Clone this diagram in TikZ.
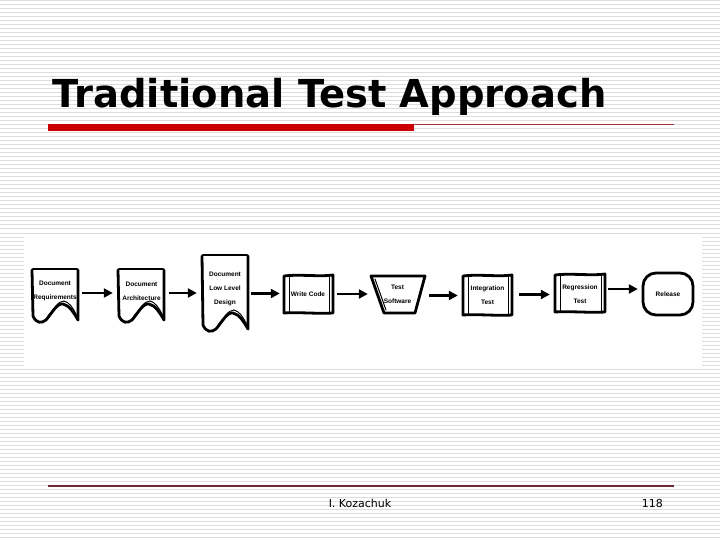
\documentclass[tikz,border=0pt]{standalone}
\usepackage{fontspec}
\setmainfont{Liberation Sans}
\newfontfamily\titlefont{DejaVu Sans}
\usetikzlibrary{arrows.meta}
\definecolor{stripegray}{HTML}{DCDCDC}
\definecolor{barred}{HTML}{CC0000}
\definecolor{thinred}{HTML}{A83232}
\definecolor{footmaroon}{HTML}{6B2A33}
\tikzset{
  stripe/.style={draw=stripegray, line width=1pt},
  sk/.style={line width=2.8pt, line join=round, line cap=round},
  skthin/.style={line width=1pt, line cap=round},
  box/.style={draw=none, inner sep=0pt, align=center, font=\bfseries\fontsize{6.5}{14}\selectfont},
  flow/.style={line width=2.4pt, -{Triangle[length=9pt,width=9pt]}, shorten <=4pt, shorten >=5pt}
}
\newcommand{\mydoc}[3]{%
  \draw[sk] (#1+1,#2) -- (#1+45,#2);
  \draw[sk] (#1,#2+1) -- (#1+1,#3) .. controls (#1+4,#3+7) and (#1+9,#3+8) .. (#1+14,#3+4)
     .. controls (#1+20,#3-3) and (#1+25,#3-13) .. (#1+31,#3-12)
     .. controls (#1+37,#3-11) and (#1+42,#3-3) .. (#1+46,#3+4) -- (#1+46,#2+1);
  \draw[skthin] (#1+16,#3) .. controls (#1+22,#3-7) and (#1+26,#3-15) .. (#1+32,#3-15)
     .. controls (#1+37,#3-14) and (#1+41,#3-8) .. (#1+44,#3-2);
}
\newcommand{\myproc}[4]{%
  \draw[sk] (#1,#2) .. controls (#1+16,#2-2) and (#3-14,#2+1) .. (#3,#2-1) -- (#3,#4)
     .. controls (#3-15,#4+1) and (#1+16,#4-1) .. (#1,#4) -- cycle;
  \draw[skthin] (#1+5,#2+1) -- (#1+5,#4-1);
  \draw[skthin] (#3-4,#2+1) -- (#3-4,#4-1);
}
\begin{document}
\begin{tikzpicture}[x=1pt,y=-1pt]
\useasboundingbox (0,0) rectangle (720,540);
\fill[white] (0,0) rectangle (720,540);
\foreach \i in {0,...,134} \draw[stripe] (0,\i*4+1) -- (720,\i*4+1);
\fill[white] (24,235) rectangle (702,366);

% title and rules
\node[anchor=base west, inner sep=0pt, font=\titlefont\bfseries\fontsize{38.5}{40}\selectfont] (title) at (52,108) {Traditional Test Approach};
\fill[barred] (48,124) rectangle (414,131);
\draw[thinred, line width=0.8pt] (414,124) -- (674,124);
\draw[footmaroon, line width=1.3pt] (48,486) -- (674,486);
\node[anchor=base, inner sep=0pt, font=\titlefont\fontsize{11}{14}\selectfont] (author) at (360,507) {I. Kozachuk};
\node[anchor=base east, inner sep=0pt, font=\titlefont\fontsize{11}{14}\selectfont] (page) at (663,507) {118};

% shapes
\mydoc{32}{269}{316}
\mydoc{118}{269}{316}
\mydoc{202}{255}{325}
\myproc{284}{276}{333}{313}
\draw[sk] (371,276) -- (425,276) -- (415,313) -- (384,313) -- cycle;
\draw[skthin] (375,279) -- (386,310);
\myproc{463}{276}{512}{315}
\myproc{555}{275}{605}{312}
\draw[sk, rounded corners=13pt] (643,273) rectangle (693,315);

% text nodes
\node[box, minimum width=46, minimum height=44] (req) at (55,291) {Document\\Requirements};
\node[box, minimum width=47, minimum height=44] (arch) at (141.5,291) {Document\\Architecture};
\node[box, minimum width=46, minimum height=67] (lld) at (225,288.5) {Document\\Low Level\\Design};
\node[box, minimum width=50, minimum height=38] (code) at (308,294) {Write Code};
\node[box, minimum width=55, minimum height=37] (soft) at (397.5,294.5) {Test\\Software};
\node[box, minimum width=49, minimum height=40] (integ) at (487.5,295.5) {Integration\\Test};
\node[box, minimum width=50, minimum height=38] (regr) at (580,294) {Regression\\Test};
\node[box, minimum width=50, minimum height=42] (rel) at (668,294) {Release};

% connectors
\draw[flow] ([yshift=-2pt]req.east) -- ([yshift=-2pt]arch.west);
\draw[flow] ([yshift=-2pt]arch.east) -- ([yshift=-2pt]arch.east -| lld.west);
\draw[flow, shorten <=3pt, shorten >=3pt] ([yshift=-5pt]lld.east) -- ([yshift=-5pt]lld.east -| code.west);
\draw[flow, shorten >=2pt] (code.east) -- (code.east -| soft.west);
\draw[flow] ([yshift=-1pt]soft.east) -- ([yshift=-1pt]soft.east -| integ.west);
\draw[flow, shorten <=7pt] ([yshift=1pt]integ.east) -- ([yshift=1pt]integ.east -| regr.west);
\draw[flow, shorten <=3pt] ([yshift=5pt]regr.east) -- ([yshift=5pt]regr.east -| rel.west);
\end{tikzpicture}
\end{document}
